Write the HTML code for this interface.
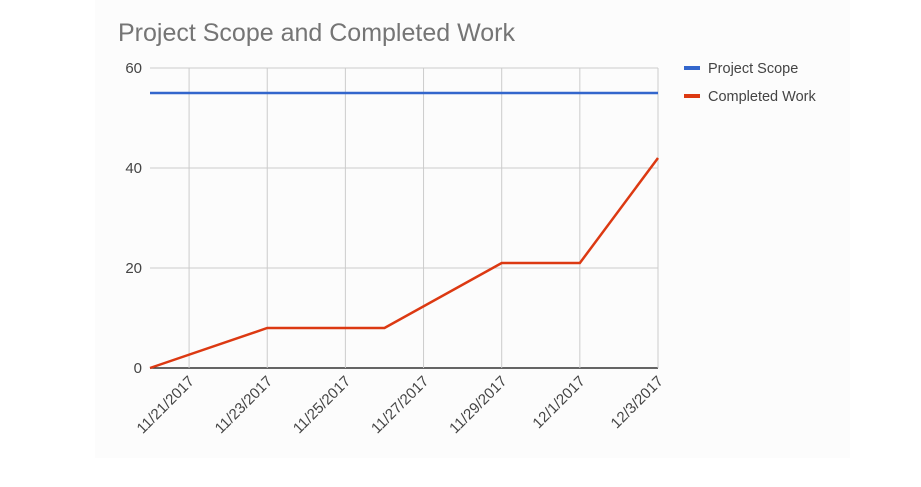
<!DOCTYPE html>
<html><head><meta charset="utf-8"><style>
body{margin:0;background:#fff;font-family:"Liberation Sans",Arial,sans-serif;}
svg{display:block}
</style></head><body>
<svg width="921" height="487" id="c">
<rect x="95" y="0" width="755" height="458" fill="#fcfcfc"/>
<text x="118" y="41" font-size="25" fill="#757575">Project Scope and Completed Work</text>
<g id="grid"></g><g id="series"></g>
<g>
<rect x="684" y="66" width="16" height="4" fill="#3366cc"/>
<text x="708" y="73" font-size="14.5" fill="#444">Project Scope</text>
<rect x="684" y="94" width="16" height="4" fill="#dc3912"/>
<text x="708" y="101" font-size="14.5" fill="#444">Completed Work</text>
</g>
</svg>
<script>
const dayLabels=["11/21/2017","11/23/2017","11/25/2017","11/27/2017","11/29/2017","12/1/2017","12/3/2017"];
const labelDays=[1,3,5,7,9,11,13];
const yTicks=[0,20,40,60];
const scopeDays=[0,13];
const scopeValues=[55,55];
const workDays=[0,3,6,9,11,13];
const workValues=[0,8,8,21,21,42];
const NS="http://www.w3.org/2000/svg";
const x0=150,x1=658,y0=368,y1=68;
const xs=d=>x0+(x1-x0)*d/13;
const ys=v=>y0-(y0-y1)*v/60;
function el(t,a,p){const e=document.createElementNS(NS,t);for(const k in a)e.setAttribute(k,a[k]);p.appendChild(e);return e;}
const g=document.getElementById('grid'),s=document.getElementById('series');
yTicks.forEach(v=>{
 const l=el('line',{x1:x0,x2:x1,y1:ys(v),y2:ys(v),stroke:v===0?'#333':'#ccc','stroke-width':v===0?1.5:1},g);
 
 
 const t=el('text',{x:x0-8,y:ys(v)+5,'text-anchor':'end','font-size':15,fill:'#444'},g);
 t.textContent=v;
 
 
});
labelDays.forEach((d,i)=>{
 const l=el('line',{x1:xs(d),x2:xs(d),y1:y1,y2:y0,stroke:'#ccc'},g);
 
 
 const t=el('text',{x:xs(d)+6,y:y0+14,'text-anchor':'end','font-size':15,fill:'#444',transform:`rotate(-45 ${xs(d)+6} ${y0+14})`},g);
 t.textContent=dayLabels[i];
 
 
});
function line(days,vals,col,name){
 const p=el('polyline',{points:days.map((d,i)=>xs(d)+','+ys(vals[i])).join(' '),fill:'none',stroke:col,'stroke-width':2.5},s);
 
 
}
line(scopeDays,scopeValues,'#3366cc','project-scope-line');
line(workDays,workValues,'#dc3912','completed-work-line');
</script>
</body></html>
